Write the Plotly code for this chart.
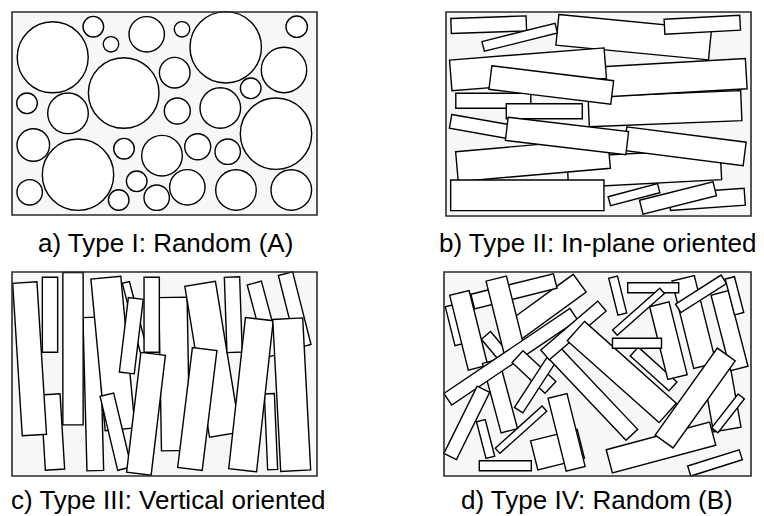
import math
import plotly.graph_objects as go

# ---------------- panel frames (page pixel units) ----------------
frame_x0 = [12, 446, 12, 444]
frame_x1 = [317, 751, 317, 751]
frame_y0 = [12, 12, 272, 272]
frame_y1 = [215, 216, 476, 476]

captions = ["a) Type I: Random (A)", "b) Type II: In-plane oriented",
            "c) Type III: Vertical oriented", "d) Type IV: Random (B)"]
caption_x = [165, 598, 168.5, 597]
caption_y = [243, 243, 500, 500]

# ---------------- panel a: circles ----------------
a_cx = [52.7, 93.3, 111, 146.7, 182, 225.7, 296.7, 284, 174.7, 123.7, 250.7, 27, 68, 177.3,
        220.3, 276, 33.3, 78, 124, 162, 197.7, 227.7, 29.7, 136.7, 118.7, 156.7, 187.3, 236, 291.3]
a_cy = [57.3, 26.7, 44.3, 34.3, 29.3, 47.3, 26.7, 70, 72.7, 93, 88.3, 103.3, 113.3, 111,
        108, 133.7, 145, 174.7, 148.7, 155.7, 146.7, 151.7, 192.3, 181.3, 200, 197.7, 187.3, 190, 190]
a_r = [35.5, 10.3, 7.7, 17.7, 7.7, 35.7, 10.7, 22.7, 15.3, 35.3, 10.3, 10.3, 20.3, 13,
       20.3, 35.7, 16.3, 35.7, 10.3, 20.3, 13, 12.7, 12.7, 10.3, 10.3, 12.7, 17.7, 20.3, 20.3]

# ---------------- panel b: in-plane rectangles (drawn in order) ----------------
b_cx = [644.3, 707.3, 665, 670, 633.7, 528, 493.3, 488, 533, 685, 527.3, 544.3, 567, 551.3,
        488.7, 519.7, 702.3, 678, 634]
b_cy = [168.3, 199.3, 108.7, 78, 37.2, 69.3, 100.7, 128, 160, 146.3, 195.3, 111.3, 136, 85,
        24.7, 37.3, 24.7, 198, 194.7]
b_len = [153.3, 75, 152.7, 152.7, 153.3, 155, 75, 76, 152.7, 120.3, 153.3, 76, 121.3, 122.7,
         75.3, 75.3, 75.7, 75.7, 51]
b_thk = [30.7, 17, 30, 30.3, 30.7, 30.7, 15, 14, 30, 23.7, 30.7, 15, 23.3, 23.7,
         15, 10, 15, 14.3, 9.3]
b_ang = [-3, -4, -2.3, -3.3, 5.5, -4.5, 0, 10, -5, 7.3, 0, 0, 6.8, 7,
         -2, -14, -3, -14, -14.8]

# ---------------- panel c: vertical rectangles (drawn in order) ----------------
c_cx = [52.7, 29.6, 50, 93.3, 73, 135.3, 113, 131.3, 115.7, 174.3, 151.7, 146, 212.5, 197.3,
        233.3, 264, 294.7, 271, 251, 291.7]
c_cy = [432, 358.8, 314.8, 394, 348.7, 318.7, 353.5, 335.7, 431.7, 374, 314.8, 413.8, 359.3, 409,
        314.7, 319.3, 310, 431.7, 394.7, 394.7]
c_len = [75.3, 152.7, 75, 153.3, 152.3, 75, 152.3, 75, 76, 153.3, 75, 120.7, 153, 120.7,
         75.3, 75, 75, 76, 152, 152.3]
c_thk = [19.3, 24.3, 15.3, 16.7, 20.3, 7.3, 30, 15, 14, 28.3, 15.3, 24.7, 31, 24.7,
         15.3, 14.7, 14.7, 10, 28, 30]
c_ang = [86.5, 86.4, 90, 88.5, 90, 75.4, 84.6, 96.9, 76.6, 89, 90, 96.8, 80.7, 97,
         88, 75, 75.8, 87.5, 96.3, 87]

# ---------------- panel d: random rectangles (drawn in order) ----------------
d_cx = [455, 494, 543.3, 514, 468.7, 505.3, 500, 510.8, 466.8, 485.6, 505.3, 521, 534, 535,
        593, 653.6, 573.5, 621.8, 557.5, 566.6, 722, 694, 729.5, 668.4, 637, 617.7, 653.2,
        638.5, 701, 734.5, 661, 695.2, 728, 715]
d_cy = [325, 345, 309.7, 291.3, 330.3, 315, 396, 356.8, 422.9, 439, 465.7, 429.7, 372, 385,
        393.8, 369, 330.5, 372, 449.6, 432.4, 400, 322, 330.7, 340.7, 343.3, 295.6, 287.7,
        311.8, 293.8, 295.8, 447.5, 398, 413.4, 462.9]
d_len = [40, 25, 90, 85, 77, 75, 72, 152, 75, 38, 52, 63, 45, 60,
         113, 52, 75, 123, 48, 75, 60, 90, 78, 75, 49, 38, 51,
         63, 54, 37, 107, 107, 43, 54]
d_thk = [10, 12, 22, 15, 20, 21, 17, 14, 14, 9, 10, 7, 16, 10,
         16, 12, 13, 26, 30, 19.5, 28, 23, 18, 20, 10, 9, 10,
         7, 10, 9.5, 24, 22, 8, 10.5]
d_ang = [76, 50, -36, -14, 76, 76, 75, -34, -63.7, 75.5, 0, -42, 43, -57,
         46.6, 42, -40.7, 41.7, -14, 76, 80, 76, 75.5, 76, 0, 76, 0,
         -41.5, -32.5, 75.5, -15, -54.5, -52, -17.5]

LINE = dict(color="black", width=1.4)


def rect_path(cx, cy, length, thick, ang):
    a = math.radians(ang)
    ux, uy = math.cos(a), math.sin(a)
    nx, ny = -math.sin(a), math.cos(a)
    hl, ht = length / 2, thick / 2
    pts = [(cx - hl * ux - ht * nx, cy - hl * uy - ht * ny),
           (cx + hl * ux - ht * nx, cy + hl * uy - ht * ny),
           (cx + hl * ux + ht * nx, cy + hl * uy + ht * ny),
           (cx - hl * ux + ht * nx, cy - hl * uy + ht * ny)]
    return "M " + " L ".join(f"{x:.2f},{y:.2f}" for x, y in pts) + " Z"


shapes = []
for x0, x1, y0, y1 in zip(frame_x0, frame_x1, frame_y0, frame_y1):
    shapes.append(dict(type="rect", xref="x", yref="y", x0=x0, x1=x1, y0=y0, y1=y1,
                       fillcolor="#f7f7f7", line=dict(width=0), layer="above"))

for cx, cy, r in zip(a_cx, a_cy, a_r):
    shapes.append(dict(type="circle", xref="x", yref="y", x0=cx - r, x1=cx + r,
                       y0=cy - r, y1=cy + r, fillcolor="white", line=LINE, layer="above"))

for group in [(b_cx, b_cy, b_len, b_thk, b_ang), (c_cx, c_cy, c_len, c_thk, c_ang),
              (d_cx, d_cy, d_len, d_thk, d_ang)]:
    for cx, cy, ln, th, an in zip(*group):
        shapes.append(dict(type="path", xref="x", yref="y", path=rect_path(cx, cy, ln, th, an),
                           fillcolor="white", line=LINE, layer="above"))

for x0, x1, y0, y1 in zip(frame_x0, frame_x1, frame_y0, frame_y1):
    shapes.append(dict(type="rect", xref="x", yref="y", x0=x0, x1=x1, y0=y0, y1=y1,
                       fillcolor="rgba(0,0,0,0)", line=dict(color="#2b2b2b", width=1.6),
                       layer="above"))

annotations = [dict(x=x, y=y, xref="x", yref="y", text=t, showarrow=False,
                    xanchor="center", yanchor="middle",
                    font=dict(family="Liberation Sans, Arial, sans-serif", size=26, color="black"))
               for t, x, y in zip(captions, caption_x, caption_y)]

# The page body has an 8px margin, so the figure covers page pixels 8..764 x 8..516.
fig = go.Figure(go.Scatter(x=[], y=[], mode="markers", showlegend=False))
fig.update_layout(
    width=756, height=508, margin=dict(l=0, r=0, t=0, b=0),
    paper_bgcolor="white", plot_bgcolor="white",
    xaxis=dict(range=[8, 764], visible=False, fixedrange=True),
    yaxis=dict(range=[516, 8], visible=False, fixedrange=True),
    shapes=shapes, annotations=annotations, showlegend=False,
)
fig.write_html("out.html", config={"displayModeBar": False})
